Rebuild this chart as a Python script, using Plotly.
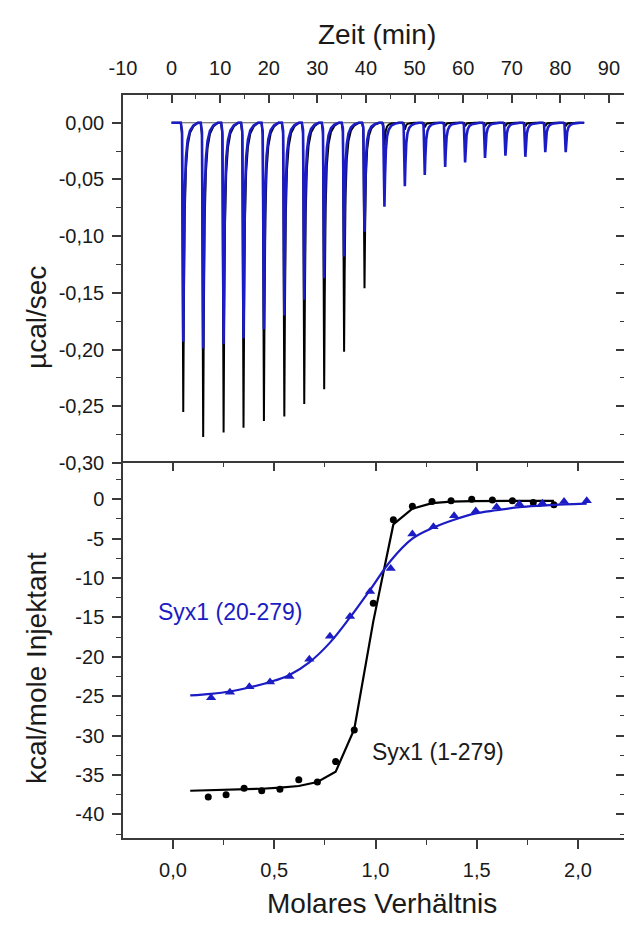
import plotly.graph_objects as go

# ---------------- data ----------------
# top panel: raw ITC thermogram (time in min, power in µcal/sec)
inj_time = [2.4, 6.5, 10.7, 14.8, 19.0, 23.2, 27.3, 31.4, 35.5, 39.7,
            43.8, 48.0, 52.1, 56.3, 60.4, 64.5, 68.7, 72.8, 76.9, 81.1]
peak_black = [-0.255, -0.277, -0.273, -0.269, -0.263, -0.259, -0.248, -0.235, -0.202, -0.146,
              -0.020, -0.006, -0.004, -0.003, -0.003, -0.003, -0.003, -0.003, -0.003, -0.003]
peak_blue = [-0.193, -0.199, -0.195, -0.190, -0.182, -0.170, -0.156, -0.137, -0.118, -0.096,
             -0.074, -0.056, -0.046, -0.039, -0.035, -0.031, -0.029, -0.030, -0.026, -0.026]
trace_span_black = [0.0, 83.0]
trace_span_blue = [0.0, 84.9]
baseline_t = [0.0, 85.0]
baseline_p = [0.0, 0.0]
# shape of one injection peak (time offset to minimum, fraction of peak depth)
spike_dt = [-0.5, -0.25, 0.0, 0.12, 0.3, 0.55, 0.9, 1.4, 2.1, 3.0]
spike_frac = [0.0, 0.04, 1.0, 0.65, 0.32, 0.16, 0.08, 0.035, 0.012, 0.0]

# bottom panel: integrated heats (kcal/mole Injektant vs molar ratio)
black_x = [0.174, 0.262, 0.351, 0.438, 0.528, 0.621, 0.713, 0.803, 0.895, 0.989,
           1.088, 1.182, 1.279, 1.373, 1.475, 1.577, 1.676, 1.779, 1.881]
black_y = [-37.8, -37.5, -36.7, -37.0, -36.8, -35.6, -35.9, -33.3, -29.3, -13.2,
           -2.6, -0.9, -0.3, -0.2, 0.0, -0.1, -0.2, -0.4, -0.7]
black_fit_x = [0.085, 0.174, 0.262, 0.351, 0.438, 0.528, 0.621, 0.713, 0.803, 0.895, 0.989,
               1.088, 1.182, 1.279, 1.373, 1.475, 1.577, 1.676, 1.779, 1.881]
black_fit_y = [-37.0, -36.95, -36.9, -36.85, -36.75, -36.6, -36.4, -35.9, -34.6, -29.2, -15.5,
               -3.2, -1.2, -0.5, -0.3, -0.25, -0.2, -0.2, -0.2, -0.2]
blue_x = [0.188, 0.281, 0.377, 0.479, 0.575, 0.673, 0.775, 0.874, 0.973, 1.075,
          1.182, 1.286, 1.388, 1.495, 1.598, 1.710, 1.824, 1.931, 2.043]
blue_y = [-25.2, -24.5, -23.8, -23.2, -22.5, -20.3, -17.4, -14.9, -11.7, -8.8,
          -4.4, -3.5, -2.1, -1.5, -1.0, -0.6, -0.5, -0.3, -0.2]
blue_fit_x = [0.085, 0.188, 0.281, 0.377, 0.479, 0.575, 0.673, 0.775, 0.874, 0.973, 1.075,
              1.182, 1.286, 1.388, 1.495, 1.598, 1.710, 1.824, 1.931, 2.043]
blue_fit_y = [-24.9, -24.7, -24.4, -23.9, -23.2, -22.3, -20.7, -18.2, -15.0, -11.5, -7.8,
              -5.0, -3.6, -2.6, -1.8, -1.4, -1.0, -0.8, -0.65, -0.55]

# tick labels
time_ticks = [-10, 0, 10, 20, 30, 40, 50, 60, 70, 80, 90]
time_labels = ["-10", "0", "10", "20", "30", "40", "50", "60", "70", "80", "90"]
power_ticks = [0.0, -0.05, -0.10, -0.15, -0.20, -0.25, -0.30]
power_labels = ["0,00", "-0,05", "-0,10", "-0,15", "-0,20", "-0,25", "-0,30"]
heat_ticks = [0, -5, -10, -15, -20, -25, -30, -35, -40]
heat_labels = ["0", "-5", "-10", "-15", "-20", "-25", "-30", "-35", "-40"]
ratio_ticks = [0.0, 0.5, 1.0, 1.5, 2.0]
ratio_labels = ["0,0", "0,5", "1,0", "1,5", "2,0"]

label_blue = "Syx1 (20-279)"
label_black = "Syx1 (1-279)"

# ---------------- layout constants ----------------
W, H = 624, 928
ML, MR, MT, MB = 123, 0, 95, 90
PLOT_H = H - MT - MB
SPLIT_PX = 463
split = (H - MB - SPLIT_PX) / PLOT_H

BLUE = "#1c1cc4"
BLACK = "#000000"
AX = "#3a3a3a"
TXT = "#1a1a1a"
FONT = "Liberation Sans, Arial, sans-serif"


def thermogram(span, times, peaks):
    ts, ps = [span[0]], [0.0]
    for t0, p in zip(times, peaks):
        for dt, f in zip(spike_dt, spike_frac):
            ts.append(t0 + dt)
            ps.append(p * f)
    ts.append(span[1])
    ps.append(0.0)
    return ts, ps


fig = go.Figure()

# top panel (blue trace on the overlaid right-hand axis, same range)
fig.add_trace(go.Scatter(x=baseline_t, y=baseline_p, mode="lines",
                         line=dict(color="#555555", width=1), xaxis="x", yaxis="y",
                         showlegend=False, hoverinfo="skip"))
tb, pb = thermogram(trace_span_black, inj_time, peak_black)
fig.add_trace(go.Scatter(x=tb, y=pb, mode="lines", line=dict(color=BLACK, width=2),
                         xaxis="x", yaxis="y", showlegend=False))
tu, pu = thermogram(trace_span_blue, inj_time, peak_blue)
fig.add_trace(go.Scatter(x=tu, y=pu, mode="lines", line=dict(color=BLUE, width=2.6),
                         xaxis="x", yaxis="y3", showlegend=False))

# bottom panel (blue series on the overlaid top/right axes, same ranges)
fig.add_trace(go.Scatter(x=blue_fit_x, y=blue_fit_y, mode="lines", line_shape="spline",
                         line=dict(color=BLUE, width=2.2), xaxis="x3", yaxis="y4", showlegend=False))
fig.add_trace(go.Scatter(x=blue_x, y=blue_y, mode="markers",
                         marker=dict(color=BLUE, size=9, symbol="triangle-up"),
                         xaxis="x3", yaxis="y4", showlegend=False))
fig.add_trace(go.Scatter(x=black_fit_x, y=black_fit_y, mode="lines",
                         line=dict(color=BLACK, width=2.2), xaxis="x2", yaxis="y2", showlegend=False))
fig.add_trace(go.Scatter(x=black_x, y=black_y, mode="markers",
                         marker=dict(color=BLACK, size=7, symbol="circle"),
                         xaxis="x2", yaxis="y2", showlegend=False))

TIME_RANGE = [-10, 93.1]
POWER_RANGE = [-0.30, 0.0245]
RATIO_RANGE = [-0.247, 2.227]
HEAT_RANGE = [-43.0, 4.6]

tickfont = dict(family=FONT, size=20, color=TXT)
common = dict(showgrid=False, zeroline=False, linecolor=AX, linewidth=1.5,
              tickcolor=AX, tickwidth=1.5, tickfont=tickfont, automargin=False)

fig.update_layout(
    width=W, height=H,
    margin=dict(l=ML, r=MR, t=MT, b=MB, pad=0, autoexpand=False),
    paper_bgcolor="white", plot_bgcolor="white",
    font=dict(family=FONT, color=TXT),
    showlegend=False,
    xaxis=dict(domain=[0, 1], anchor="y", side="top", range=TIME_RANGE,
               tickmode="array", tickvals=time_ticks, ticktext=time_labels,
               ticks="inside", ticklen=8, ticklabelstandoff=10, showline=True,
               minor=dict(tickmode="linear", tick0=-5, dtick=10, ticks="inside",
                          ticklen=4, tickcolor=AX, tickwidth=1.2),
               **common),
    yaxis=dict(domain=[split, 1], anchor="x", range=POWER_RANGE,
               tickmode="array", tickvals=power_ticks, ticktext=power_labels,
               ticks="outside", ticklen=9, ticklabelstandoff=4, showline=True,
               minor=dict(tickmode="linear", tick0=-0.025, dtick=0.05, ticks="outside",
                          ticklen=5, tickcolor=AX, tickwidth=1.2),
               **common),
    yaxis3=dict(overlaying="y", side="right", anchor="x", range=POWER_RANGE,
                tickmode="array", tickvals=power_ticks, showticklabels=False,
                ticks="inside", ticklen=8, showline=False,
                minor=dict(tickmode="linear", tick0=-0.025, dtick=0.05, ticks="inside",
                           ticklen=4, tickcolor=AX, tickwidth=1.2),
                **common),
    xaxis2=dict(domain=[0, 1], anchor="y2", side="bottom", range=RATIO_RANGE,
                tickmode="array", tickvals=ratio_ticks, ticktext=ratio_labels,
                ticks="outside", ticklen=9, ticklabelstandoff=4, showline=True,
                minor=dict(tickmode="linear", tick0=0.25, dtick=0.5, ticks="outside",
                           ticklen=5, tickcolor=AX, tickwidth=1.2),
                **common),
    yaxis2=dict(domain=[0, split], anchor="x2", range=HEAT_RANGE,
                tickmode="array", tickvals=heat_ticks, ticktext=heat_labels,
                ticks="outside", ticklen=9, ticklabelstandoff=4, showline=True,
                minor=dict(tickmode="linear", tick0=-2.5, dtick=5, ticks="outside",
                           ticklen=5, tickcolor=AX, tickwidth=1.2),
                **common),
    xaxis3=dict(overlaying="x2", side="top", anchor="y2", range=RATIO_RANGE,
                tickmode="array", tickvals=ratio_ticks, showticklabels=False,
                ticks="inside", ticklen=8, showline=True,
                minor=dict(tickmode="linear", tick0=0.25, dtick=0.5, ticks="inside",
                           ticklen=4, tickcolor=AX, tickwidth=1.2),
                **common),
    yaxis4=dict(overlaying="y2", side="right", anchor="x2", range=HEAT_RANGE,
                tickmode="array", tickvals=heat_ticks, showticklabels=False,
                ticks="inside", ticklen=8, showline=False,
                minor=dict(tickmode="linear", tick0=-2.5, dtick=5, ticks="inside",
                           ticklen=4, tickcolor=AX, tickwidth=1.2),
                **common),
)


def px_to_paper_x(px):
    return (px - ML) / (W - ML - MR)


def px_to_paper_y(py):
    return (H - MB - py) / PLOT_H


title_font = dict(family=FONT, size=28, color=TXT)
fig.add_annotation(text="Zeit (min)", xref="paper", yref="paper",
                   x=px_to_paper_x(377), y=px_to_paper_y(35), showarrow=False,
                   xanchor="center", yanchor="middle", font=title_font)
fig.add_annotation(text="Molares Verhältnis", xref="paper", yref="paper",
                   x=px_to_paper_x(382), y=px_to_paper_y(903), showarrow=False,
                   xanchor="center", yanchor="middle", font=title_font)
fig.add_annotation(text="µcal/sec", xref="paper", yref="paper", textangle=-90,
                   x=px_to_paper_x(36), y=px_to_paper_y(318), showarrow=False,
                   xanchor="center", yanchor="middle", font=title_font)
fig.add_annotation(text="kcal/mole Injektant", xref="paper", yref="paper", textangle=-90,
                   x=px_to_paper_x(36), y=px_to_paper_y(668), showarrow=False,
                   xanchor="center", yanchor="middle", font=title_font)

fig.add_annotation(text=label_blue, xref="x2", yref="y2", x=0.28, y=-14.3,
                   showarrow=False, xanchor="center", yanchor="middle",
                   font=dict(family=FONT, size=23, color=BLUE))
fig.add_annotation(text=label_black, xref="x2", yref="y2", x=1.31, y=-32.1,
                   showarrow=False, xanchor="center", yanchor="middle",
                   font=dict(family=FONT, size=23, color=TXT))

fig.write_html("out.html")
